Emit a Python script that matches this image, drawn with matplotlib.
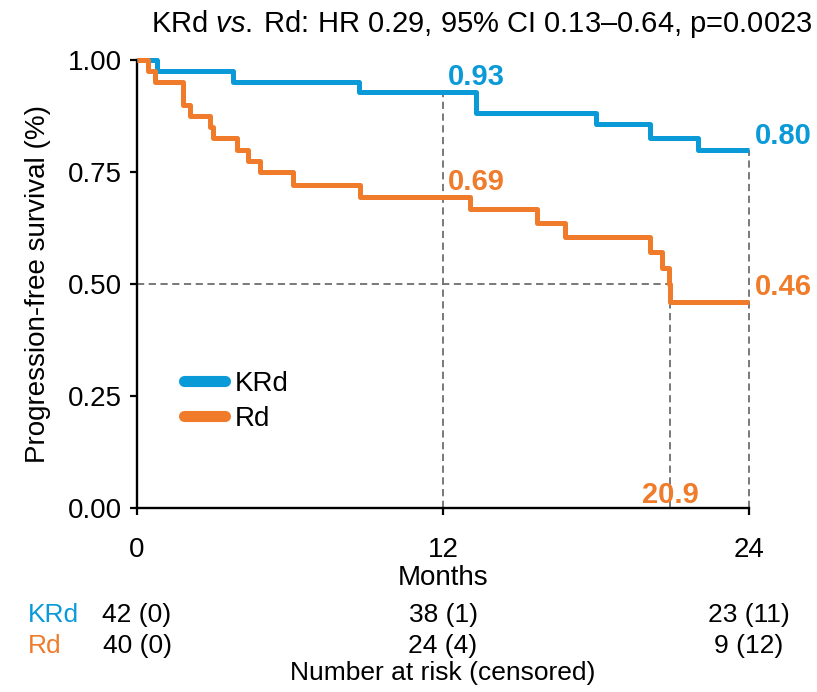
import matplotlib
matplotlib.use("Agg")
import matplotlib.pyplot as plt
from matplotlib.lines import Line2D

plt.rcParams['font.family'] = ['Liberation Sans', 'DejaVu Sans']
plt.rcParams['mathtext.fontset'] = 'custom'
plt.rcParams['mathtext.it'] = 'Liberation Sans:italic'
plt.rcParams['mathtext.rm'] = 'Liberation Sans'

# ---- data ----
krd_times = [0, 0.78, 3.76, 8.7, 13.3, 18.0, 20.1, 22.0, 24]
krd_surv = [1.0, 0.976, 0.952, 0.929, 0.881, 0.857, 0.826, 0.798, 0.798]
rd_times = [0, 0.44, 0.71, 1.79, 2.08, 2.86, 2.99, 3.91, 4.37, 4.82, 6.13, 8.75,
            13.06, 15.7, 16.8, 20.1, 20.6, 20.85, 20.9, 24]
rd_surv = [1.0, 0.975, 0.95, 0.90, 0.875, 0.85, 0.825, 0.80, 0.775, 0.75, 0.72, 0.695,
           0.668, 0.636, 0.605, 0.572, 0.535, 0.50, 0.46, 0.46]
groups = ["KRd", "Rd"]
risk_times = [0, 12, 24]
krd_risk = ["42 (0)", "38 (1)", "23 (11)"]
rd_risk = ["40 (0)", "24 (4)", "9 (12)"]
median_rd = 20.9
land_12 = [0.93, 0.69]
land_24 = [0.80, 0.46]
yticks = [0.0, 0.25, 0.5, 0.75, 1.0]
xticks = [0, 12, 24]

BLUE = "#0A9AD8"
ORANGE = "#EF7B2B"
GRAY = "#6E6E6E"
FS = 20

fig = plt.figure(figsize=(8.17, 6.92), dpi=100)
ax = fig.add_axes([0.1677, 0.2659, 0.7491, 0.6474])

ax.step(krd_times, krd_surv, where="post", color=BLUE, lw=3.6, solid_capstyle="butt", zorder=3)
ax.step(rd_times, rd_surv, where="post", color=ORANGE, lw=3.6, solid_capstyle="butt", zorder=3)

# reference dashed lines
dash = dict(color=GRAY, lw=1.3, ls=(0, (4, 2.5)), zorder=2)
ax.plot([12, 12], [0, land_12[0]], **dash)
ax.plot([24, 24], [0, land_24[0]], **dash)
ax.plot([0, median_rd], [0.5, 0.5], **dash)
ax.plot([median_rd, median_rd], [0, 0.5], **dash)

# landmark labels
lab = dict(fontsize=21, fontweight="bold", ha="left")
ax.text(12.2, 0.945, f"{land_12[0]:.2f}", color=BLUE, va="baseline", **lab)
ax.text(12.2, 0.71, f"{land_12[1]:.2f}", color=ORANGE, va="baseline", **lab)
ax.text(24.22, 0.83, f"{land_24[0]:.2f}", color=BLUE, va="center", **lab)
ax.text(24.22, 0.493, f"{land_24[1]:.2f}", color=ORANGE, va="center", **lab)
ax.text(median_rd, 0.012, f"{median_rd}", color=ORANGE, fontsize=21, fontweight="bold",
        va="baseline", ha="center")

ax.set_xlim(0, 24)
ax.set_ylim(0, 1.0)
ax.set_xticks(xticks)
ax.set_yticks(yticks)
ax.set_yticklabels([f"{v:.2f}" for v in yticks])
ax.tick_params(labelsize=FS, width=1.6, length=5)
ax.tick_params(axis="x", pad=16)
ax.tick_params(axis="y", pad=6)
for s in ["top", "right"]:
    ax.spines[s].set_visible(False)
for s in ["left", "bottom"]:
    ax.spines[s].set_linewidth(1.7)
ax.set_xlabel("Months", fontsize=FS, labelpad=1)
ax.set_ylabel("Progression-free survival (%)", fontsize=FS, labelpad=12)

handles = [Line2D([0], [0], color=BLUE, lw=8, solid_capstyle="round"),
           Line2D([0], [0], color=ORANGE, lw=8, solid_capstyle="round")]
ax.legend(handles, groups, loc="center left", bbox_to_anchor=(0.076, 0.238), frameon=False,
          fontsize=FS, handlelength=1.5, handletextpad=0.35, labelspacing=0.3,
          borderaxespad=0, borderpad=0)

fig.text(0.994, 1 - 32 / 692, "KRd $\\it{vs.}$\u2009Rd: HR 0.29, 95% CI 0.13\u20130.64, p=0.0023",
         ha="right", va="baseline", fontsize=21)

# risk table
H = 692
row_base = [622, 653]
for gi, (name, col, vals) in enumerate(zip(groups, [BLUE, ORANGE], [krd_risk, rd_risk])):
    fig.text(28 / 817, 1 - row_base[gi] / H, name, color=col, fontsize=19, ha="left", va="baseline")
    for t, v in zip(risk_times, vals):
        xf = ax.transData.transform((t, 0))[0] / fig.bbox.width
        fig.text(xf, 1 - row_base[gi] / H, v, fontsize=19, ha="center", va="baseline")
fig.text(442.5 / 817, 1 - 680 / H, "Number at risk (censored)", fontsize=19, ha="center", va="baseline")

for ln in ax.lines:
    ln.set_clip_on(False)

fig.savefig("out.png", dpi=100)
